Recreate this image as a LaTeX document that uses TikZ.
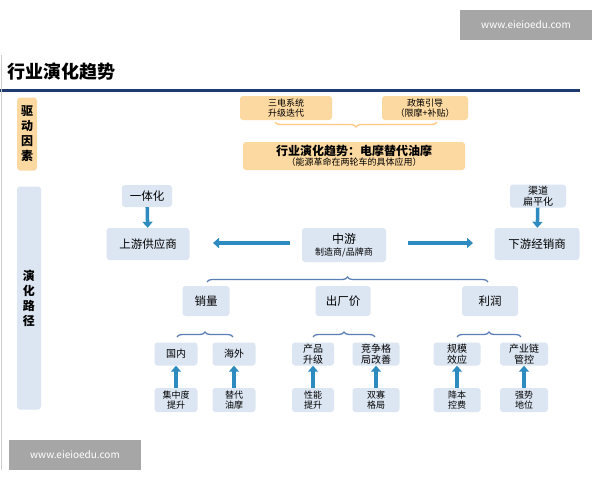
\documentclass[tikz,border=0pt]{standalone}
\usepackage{fontspec}
\setmainfont{Noto Sans CJK SC}
\usetikzlibrary{decorations.pathreplacing,arrows.meta}
\definecolor{org}{HTML}{FCD9A0}
\definecolor{lb}{HTML}{DCE6F2}
\definecolor{ab}{HTML}{2E8BC0}
\definecolor{br}{HTML}{5B7FB5}
\definecolor{navy}{HTML}{1F3A6E}
\begin{document}
\begin{tikzpicture}[x=1pt,y=1pt,
 ob/.style={fill=org,rounded corners=3pt,align=center,inner sep=1pt,font=\fontsize{9}{10}\selectfont},
 bb/.style={fill=lb,rounded corners=3pt,align=center,inner sep=1pt,font=\fontsize{11.5}{12}\selectfont},
 sb/.style={bb,font=\fontsize{10}{11}\selectfont},
 ar/.style={draw=ab,line width=3.5pt,-{Triangle[length=6pt,width=10pt]}},
 brc/.style={draw=br,line width=1.3pt,decorate,decoration={brace,amplitude=5pt}},
 gb/.style={fill=gray!70,text=white,font=\fontsize{10}{12}\selectfont,minimum width=132pt,minimum height=30pt}]
\useasboundingbox[fill=white] (0,0) rectangle (600,-480);
\node[gb] (w1) at (526,-25) {www.eieioedu.com};
\node[gb] (w2) at (75,-455) {www.eieioedu.com};
\node[anchor=west,font=\bfseries\fontsize{18}{19}\selectfont] (title) at (4,-72) {行业演化趋势};
\draw[navy,line width=3pt] (0,-90) -- (580,-90);
\draw[gray!40,line width=0.8pt] (1,-55) -- (1,-470);
\node[ob,minimum width=20pt,minimum height=73pt,font=\bfseries\fontsize{12}{15}\selectfont] (qd) at (27,-134) {驱\\动\\因\\素};
\node[bb,minimum width=24pt,minimum height=223pt,font=\bfseries\fontsize{12}{15}\selectfont] (yh) at (29,-298) {演\\化\\路\\径};
\node[ob,minimum width=92pt,minimum height=24pt,font=\fontsize{9}{10.5}\selectfont] (sd) at (286,-108) {三电系统\\升级迭代};
\node[ob,minimum width=86pt,minimum height=24pt,font=\fontsize{9}{10.5}\selectfont] (zc) at (425,-108) {政策引导\\（限摩+补贴）};
\draw[brc,draw=org!80!orange] (437,-122) -- (275,-122);
\node[ob,minimum width=222pt,minimum height=28pt] (tr) at (354,-156) {{\bfseries\fontsize{12}{13}\selectfont 行业演化趋势：电摩替代油摩}\\{\fontsize{9}{10}\selectfont（能源革命在两轮车的具体应用）}};
\node[bb,minimum width=50pt,minimum height=22pt] (yt) at (147,-196) {一体化};
\node[bb,minimum width=83pt,minimum height=32pt] (sy) at (148,-244) {上游供应商};
\node[bb,minimum width=84pt,minimum height=34pt] (zy) at (344,-245) {{\fontsize{12}{13}\selectfont 中游}\\{\fontsize{9}{10}\selectfont 制造商/品牌商}};
\node[sb,minimum width=56pt,minimum height=23pt] (qdp) at (538,-196) {渠道\\扁平化};
\node[bb,minimum width=85pt,minimum height=32pt] (xy) at (537,-244) {下游经销商};
\draw[ar] (yt) -- (sy);
\draw[ar] (qdp) -- (xy);
\draw[ar] (290,-243) -- (213,-243);
\draw[ar] (408,-243) -- (473,-243);
\draw[brc] (207,-282) -- (488,-282);
\node[bb,minimum width=47pt,minimum height=30pt] (xl) at (206,-301) {销量};
\node[bb,minimum width=55pt,minimum height=30pt] (cc) at (343,-301) {出厂价};
\node[bb,minimum width=56pt,minimum height=30pt] (lr) at (490,-301) {利润};
\draw[brc] (177,-337) -- (233,-337);
\draw[brc] (313,-337) -- (375,-337);
\draw[brc] (457,-337) -- (521,-337);
\foreach \n/\x/\w/\t/\b/\bt in {gn/176/43/国内/b1/集中度\\提升, hw/234/43/海外/b2/替代\\油摩, cp/313/42/产品\\升级/b3/性能\\提升, jz/376/47/竞争格\\局改善/b4/双寡\\格局, gm/457/47/规模\\效应/b5/降本\\控费, cy/524/48/产业链\\管控/b6/强势\\地位}{
 \node[sb,minimum width=\w pt,minimum height=23pt] (\n) at (\x,-354) {\t};
 \node[sb,minimum width=\w pt,minimum height=24pt,font=\fontsize{9}{10.5}\selectfont] (\b) at (\x,-400) {\bt};
 \draw[ar] (\b) -- (\n);
}
\end{tikzpicture}
\end{document}
